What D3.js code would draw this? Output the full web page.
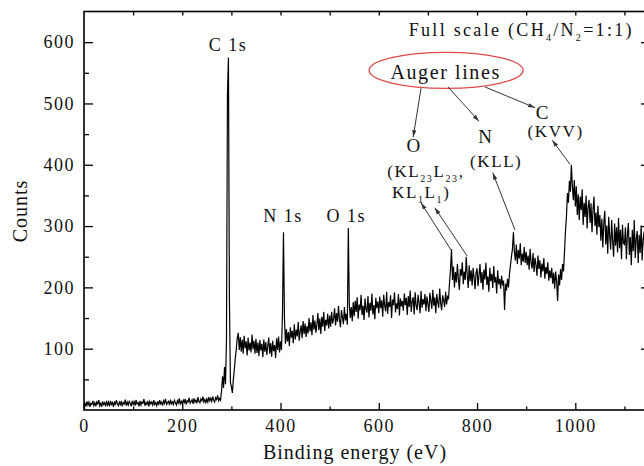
<!DOCTYPE html>
<html>
<head>
<meta charset="utf-8">
<script src="https://cdn.jsdelivr.net/npm/d3@7"></script>
<style>
  body { margin:0; background:#fff; }
  svg { display:block; font-family:"Liberation Serif","Times New Roman",serif; }
</style>
</head>
<body>
<div id="chart"></div>
<script>
"use strict";

// spectrum: one value every energyStep eV, first value at 0 eV
var energyStep = 2;
var counts = [
  4,12,6,14,8,13,5,11,9,15,7,12,6,13,10,16,7,11,5,14,9,12,6,15,8,
  13,6,15,9,12,5,14,8,16,10,7,13,9,15,6,12,10,17,7,13,8,14,11,6,15,
  9,14,7,16,10,12,6,15,8,13,11,18,7,12,9,15,6,14,10,13,8,16,9,12,7,
  14,8,16,10,13,7,15,11,18,9,12,14,8,17,10,13,9,16,12,8,15,11,19,10,14,
  10,16,12,18,9,15,13,20,11,14,17,10,19,13,16,11,21,14,12,18,15,22,13,17,12,
  18,13,21,15,19,14,22,16,13,20,17,24,15,19,16,32,55,36,70,42,115,515,575,180,45,
  38,28,50,66,85,100,118,126,98,119,95,115,92,121,101,112,89,118,97,110,94,123,99,113,92,
  116,93,110,88,114,97,108,86,115,95,111,90,104,118,92,109,87,113,96,106,85,117,98,120,94,
  112,98,158,290,150,108,132,112,127,104,135,118,129,109,140,115,131,120,144,113,128,138,117,145,124,
  141,119,137,125,150,128,143,122,155,131,146,126,139,158,130,149,124,152,136,160,129,147,138,157,133,
  154,136,160,141,149,166,138,158,144,170,147,135,163,151,140,168,146,157,139,297,172,150,168,145,176,
  153,178,160,184,149,172,163,188,155,170,147,182,164,159,186,151,175,162,190,156,171,148,183,166,177,
  158,185,166,179,152,188,170,161,193,157,176,168,187,150,180,171,192,159,174,165,189,154,182,169,178,
  162,190,171,183,155,186,168,195,160,177,184,156,192,170,163,188,175,158,194,167,181,172,189,161,185,
  173,160,191,178,165,196,170,184,158,189,176,167,198,174,163,187,179,168,193,172,185,182,208,230,262,
  212,234,200,225,208,238,214,196,230,219,241,205,226,212,250,221,199,236,210,228,203,232,216,197,224,
  231,202,220,238,207,225,196,229,213,240,204,218,193,232,210,222,199,235,208,217,190,228,205,214,198,
  219,203,211,163,206,195,214,200,222,236,250,262,290,258,244,270,238,261,247,272,236,255,242,266,240,
  258,236,252,229,263,240,231,256,225,248,237,219,252,230,244,216,239,226,248,214,233,222,241,211,228,
  215,232,206,224,198,226,210,178,221,203,230,212,238,226,258,292,316,354,338,374,356,400,366,342,375,
  332,365,318,352,310,348,326,360,302,338,315,350,296,331,343,305,337,290,326,348,300,322,286,333,298,
  318,276,312,265,305,325,270,301,255,315,283,262,310,275,250,304,268,298,257,313,264,294,246,302,272,
  270,298,246,287,305,253,282,236,294,259,310,248,279,292,240,286,256,301,244,278,291,238,283,252,297,
  262
];

var xTicks      = [0,200,400,600,800,1000];
var xMinorTicks = [100,300,500,700,900,1100];
var topTicks    = [100,200,300,400,500,600,700,800,900,1000,1100];
var yTicks      = [100,200,300,400,500,600];
var yMinorTicks = [50,150,250,350,450,550];

// labels in data units (eV, counts); parts: [text, isSubscript]
var peakLabels = [
  {parts:[["C 1s",0]], e:293, c:585},
  {parts:[["N 1s",0]], e:405, c:307},
  {parts:[["O 1s",0]], e:534, c:307}
];
var augerLabels = [
  {parts:[["Full scale (CH",0],["4",1],["/N",0],["2",1],["=1:1)",0]], e:661, c:610, anchor:"start", size:18, ls:2.3},
  {parts:[["Auger lines",0]], e:736, c:540, size:20},
  {parts:[["O",0]], e:672, c:421, size:19},
  {parts:[["(KL",0],["23",1],["L",0],["23",1],[",",0]], e:617, c:380, anchor:"start", size:17},
  {parts:[["KL",0],["1",1],["L",0],["1",1],[")",0]], e:627, c:346, anchor:"start", size:17},
  {parts:[["N",0]], e:818, c:435, size:19},
  {parts:[["(KLL)",0]], e:839, c:396, size:17},
  {parts:[["C",0]], e:934, c:475, size:19},
  {parts:[["(KVV)",0]], e:960, c:445, size:17}
];
var augerEllipse = {e:737, c:554};
var arrows = [
  {from:[686,525], to:[670,445]},
  {from:[741,527], to:[804,471]},
  {from:[816,527], to:[918,493]},
  {from:[989,401], to:[953,440]},
  {from:[877,294], to:[832,387]},
  {from:[747,261], to:[686,338]},
  {from:[780,251], to:[714,330]}
];

var width = 644, height = 466;
var plotLeft = 84, plotRight = 649, plotTop = 11.5, plotBottom = 410;

var x = d3.scaleLinear().domain([0,1150]).range([plotLeft,plotRight]);
var y = d3.scaleLinear().domain([0,650]).range([plotBottom,plotTop]);

var svg = d3.select("#chart").append("svg")
    .attr("width", width)
    .attr("height", height);

svg.append("defs").append("marker")
    .attr("id", "head")
    .attr("viewBox", "0 0 10 10")
    .attr("refX", 10)
    .attr("refY", 5)
    .attr("markerUnits", "userSpaceOnUse")
    .attr("markerWidth", 7)
    .attr("markerHeight", 7)
    .attr("orient", "auto")
  .append("path")
    .attr("d", "M0,2L10,5L0,8Z")
    .style("fill", "#333");

// spectrum
var line = d3.line()
    .x(function(d,i){ return x(i*energyStep); })
    .y(function(d){ return y(d); });

svg.append("path")
    .datum(counts)
    .attr("d", line)
    .style("fill", "none")
    .style("stroke", "#000")
    .style("stroke-width", 1.2);

// axes, ticks pointing inwards
function clean(g){
  g.attr("font-family", null).attr("font-size", null);
  g.select(".domain").remove();
}

function tickStyle(g){
  g.selectAll("line").style("stroke", "#000").style("stroke-width", 1.3);
  g.selectAll("text")
    .style("font-size", "18px")
    .style("letter-spacing", "1.5px")
    .style("fill", "#111");
}

svg.append("g").attr("transform", "translate(0," + plotBottom + ")")
    .call(d3.axisBottom(x).tickValues(xTicks).tickSize(-7).tickPadding(9).tickFormat(d3.format("d")))
    .call(clean).call(tickStyle);
svg.append("g").attr("transform", "translate(0," + plotBottom + ")")
    .call(d3.axisBottom(x).tickValues(xMinorTicks).tickSize(-3.5).tickFormat(""))
    .call(clean).call(tickStyle);
svg.append("g").attr("transform", "translate(0," + plotTop + ")")
    .call(d3.axisTop(x).tickValues(topTicks).tickSize(-4).tickFormat(""))
    .call(clean).call(tickStyle);

svg.append("g").attr("transform", "translate(" + plotLeft + ",0)")
    .call(d3.axisLeft(y).tickValues(yTicks).tickSize(-9).tickPadding(9))
    .call(clean).call(tickStyle);
svg.append("g").attr("transform", "translate(" + plotLeft + ",0)")
    .call(d3.axisLeft(y).tickValues(yMinorTicks).tickSize(-5).tickFormat(""))
    .call(clean).call(tickStyle);
svg.append("g").attr("transform", "translate(" + plotRight + ",0)")
    .call(d3.axisRight(y).tickValues(yTicks).tickSize(-8).tickFormat(""))
    .call(clean).call(tickStyle);
svg.append("g").attr("transform", "translate(" + plotRight + ",0)")
    .call(d3.axisRight(y).tickValues(yMinorTicks).tickSize(-4).tickFormat(""))
    .call(clean).call(tickStyle);

// frame
svg.append("rect")
    .attr("x", plotLeft)
    .attr("y", plotTop)
    .attr("width", plotRight-plotLeft)
    .attr("height", plotBottom-plotTop)
    .style("fill", "none")
    .style("stroke", "#000")
    .style("stroke-width", 1.6);

// axis titles
svg.append("text")
    .attr("x", 355)
    .attr("y", 459)
    .attr("text-anchor", "middle")
    .style("font-size", "20px")
    .style("letter-spacing", "1px")
    .style("fill", "#111")
    .text("Binding energy (eV)");

svg.append("text")
    .attr("transform", "translate(27,211) rotate(-90)")
    .attr("text-anchor", "middle")
    .style("font-size", "20px")
    .style("letter-spacing", "1px")
    .style("fill", "#111")
    .text("Counts");

// labels
function addLabel(d, size, ls){
  var t = svg.append("text")
      .attr("x", x(d.e))
      .attr("y", y(d.c))
      .attr("text-anchor", d.anchor || "middle")
      .style("font-size", (d.size || size) + "px")
      .style("letter-spacing", (d.ls || ls) + "px")
      .style("fill", "#111");
  var shift = 0;
  d.parts.forEach(function(p){
    var target = p[1] ? 5 : 0;
    t.append("tspan")
        .attr("dy", target - shift)
        .style("font-size", p[1] ? "10px" : null)
        .text(p[0]);
    shift = target;
  });
}

peakLabels.forEach(function(d){ addLabel(d, 18, 1.5); });
augerLabels.forEach(function(d){ addLabel(d, 17, 1.6); });

svg.append("ellipse")
    .attr("cx", x(augerEllipse.e))
    .attr("cy", y(augerEllipse.c))
    .attr("rx", 77)
    .attr("ry", 18)
    .style("fill", "none")
    .style("stroke", "#e04848")
    .style("stroke-width", 1.3);

svg.selectAll("line.arrow")
    .data(arrows)
  .enter().append("line")
    .attr("class", "arrow")
    .attr("x1", function(d){ return x(d.from[0]); })
    .attr("y1", function(d){ return y(d.from[1]); })
    .attr("x2", function(d){ return x(d.to[0]); })
    .attr("y2", function(d){ return y(d.to[1]); })
    .attr("marker-end", "url(#head)")
    .style("stroke", "#333")
    .style("stroke-width", 1);
</script>
</body>
</html>
